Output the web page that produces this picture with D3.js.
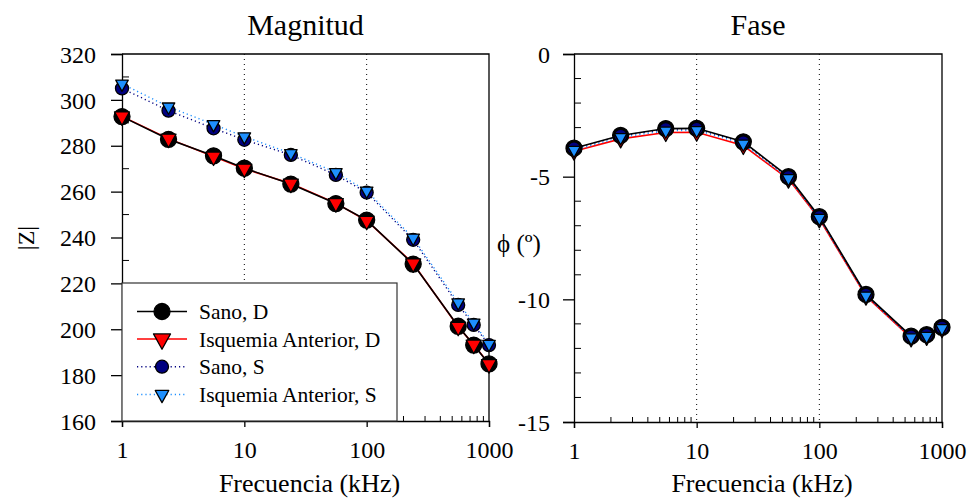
<!DOCTYPE html>
<html>
<head>
<meta charset="utf-8">
<script src="https://cdn.jsdelivr.net/npm/d3@7"></script>
<style>
  html, body { margin: 0; padding: 0; background: #fff; }
  svg { display: block; font-family: "Liberation Serif", "Times New Roman", serif; }
</style>
</head>
<body>
<svg id="chart" width="977" height="498"></svg>
<script>
// Frequencies (kHz)
const freqs = [1, 2.4, 5.6, 10, 24, 56, 100, 240, 560, 750, 1000];

// Impedance magnitude |Z|
const magSanoD = [292.7, 282.8, 275.6, 270.2, 263.3, 254.8, 247.6, 228.4, 201.3, 193.1, 184.9];
const magIsqD  = [292.8, 283.1, 275.3, 270.0, 263.5, 255.0, 247.3, 228.7, 201.1, 193.3, 184.8];
const magSanoS = [305.0, 295.3, 287.6, 282.6, 276.0, 267.3, 259.6, 239.0, 210.6, 201.9, 193.1];
const magIsqS  = [307.0, 297.0, 289.3, 284.0, 276.7, 268.4, 260.3, 239.8, 211.6, 202.8, 193.5];

// Phase (degrees)
const phSanoD = [-3.84, -3.32, -3.04, -3.03, -3.58, -5.00, -6.63, -9.80, -11.50, -11.44, -11.14];
const phIsqD  = [-3.96, -3.46, -3.20, -3.19, -3.73, -5.10, -6.72, -9.87, -11.57, -11.51, -11.20];
const phSanoS = [-3.85, -3.34, -3.06, -3.05, -3.60, -5.02, -6.65, -9.82, -11.52, -11.46, -11.15];
const phIsqS  = [-3.92, -3.40, -3.13, -3.11, -3.66, -5.07, -6.69, -9.86, -11.56, -11.50, -11.18];

const seriesNames = ["Sano, D", "Isquemia Anterior, D", "Sano, S", "Isquemia Anterior, S"];
const xTicks = [1, 10, 100, 1000];
const magTicks = [160, 180, 200, 220, 240, 260, 280, 300, 320];
const phTicks = [0, -5, -10, -15];

const styles = [
  { line: "#000000", dash: null,    width: 1.6, marker: "circle",   fill: "#000000", size: 8 },
  { line: "#ff0000", dash: null,    width: 1.6, marker: "triangle", fill: "#ff0000", size: 15 },
  { line: "#000080", dash: "1.2,3", width: 1.4, marker: "circle",   fill: "#000080", size: 6.5 },
  { line: "#1e90ff", dash: "1.2,3", width: 1.4, marker: "triangle", fill: "#1e90ff", size: 12.5 }
];

const svg = d3.select("#chart");

// Downward-pointing triangle centred on its centroid
function trianglePath(w) {
  const h = w * 0.9;
  return `M${-w / 2},${-h / 3}L${w / 2},${-h / 3}L0,${2 * h / 3}Z`;
}

function drawMarker(g, st, x, y) {
  if (st.marker === "circle") {
    g.append("circle").attr("cx", x).attr("cy", y).attr("r", st.size)
      .attr("fill", st.fill).attr("stroke", "#000").attr("stroke-width", 1.3);
  } else {
    g.append("path").attr("d", trianglePath(st.size)).attr("transform", `translate(${x},${y})`)
      .attr("fill", st.fill).attr("stroke", "#000").attr("stroke-width", 1.3)
      .attr("stroke-linejoin", "round");
  }
}

function panel(opts) {
  const { left, right, top, bottom, yDomain, yTicks, yMinorStep, yPad, data, title } = opts;
  const g = svg.append("g");
  const x = d3.scaleLog().domain([1, 1000]).range([left, right]);
  const y = d3.scaleLinear().domain(yDomain).range([bottom, top]);

  // vertical dotted grid at decades
  g.selectAll("line.grid").data([10, 100]).join("line")
    .attr("x1", d => x(d)).attr("x2", d => x(d)).attr("y1", top).attr("y2", bottom)
    .attr("stroke", "#000").attr("stroke-width", 1).attr("stroke-dasharray", "1,4");

  // minor x ticks (inward)
  const minorX = [];
  [1, 10, 100].forEach(dec => { for (let k = 2; k <= 9; k++) minorX.push(dec * k); });
  g.selectAll("line.mx").data(minorX).join("line")
    .attr("x1", d => x(d)).attr("x2", d => x(d)).attr("y1", bottom).attr("y2", bottom - 5)
    .attr("stroke", "#000").attr("stroke-width", 1);

  // minor y ticks (inward)
  const minorY = d3.range(yDomain[0] + yMinorStep, yDomain[1], yMinorStep).filter(v => !yTicks.includes(v));
  g.selectAll("line.my").data(minorY).join("line")
    .attr("x1", left).attr("x2", left + 7).attr("y1", d => y(d)).attr("y2", d => y(d))
    .attr("stroke", "#000").attr("stroke-width", 1);

  // frame (top + right)
  g.append("path").attr("d", `M${left},${top}H${right}V${bottom}`)
    .attr("fill", "none").attr("stroke", "#000").attr("stroke-width", 1.3);

  // axes
  const fmt = d => String(d).replace("\u2212", "-");
  const xAxis = d3.axisBottom(x).tickValues(xTicks).tickFormat(fmt).tickSizeOuter(0).tickSize(6).tickPadding(14);
  const yAxis = d3.axisLeft(y).tickValues(yTicks).tickFormat(fmt).tickSizeOuter(0).tickSize(11).tickPadding(yPad);
  const gx = g.append("g").attr("transform", `translate(0,${bottom})`).call(xAxis);
  const gy = g.append("g").attr("transform", `translate(${left},0)`).call(yAxis);
  [gx, gy].forEach(a => {
    a.attr("font-family", null);
    a.select(".domain").attr("stroke", "#000").attr("stroke-width", 1.3);
    a.selectAll(".tick line").attr("stroke", "#000").attr("stroke-width", 1.3);
    a.selectAll(".tick text").attr("fill", "#000")
      .style("font-family", "'Liberation Serif', serif").style("font-size", "24px");
  });
  gy.selectAll(".tick text").attr("dy", "0.34em");

  // series: lines first, then markers
  const line = d3.line().x((d, i) => x(freqs[i])).y(d => y(d));
  const order = opts.lineOrder || [0, 1, 2, 3];
  order.forEach(si => {
    const st = styles[si];
    g.append("path").datum(data[si]).attr("d", line).attr("fill", "none")
      .attr("stroke", st.line).attr("stroke-width", st.width)
      .attr("stroke-dasharray", st.dash);
  });
  data.forEach((vals, si) => {
    const st = styles[si];
    vals.forEach((v, i) => drawMarker(g, st, x(freqs[i]), y(v)));
  });

  // titles and labels
  g.append("text").attr("x", (left + right) / 2).attr("y", 35).attr("text-anchor", "middle")
    .style("font-size", "30px").text(title);
  g.append("text").attr("x", (left + right) / 2 + 4).attr("y", 492).attr("text-anchor", "middle")
    .style("font-size", "26px").text("Frecuencia (kHz)");
  return { g, x, y };
}

// Magnitude panel
const p1 = panel({
  left: 122, right: 489, top: 54, bottom: 421,
  yDomain: [160, 320], yTicks: magTicks, yMinorStep: 10, yPad: 15,
  data: [magSanoD, magIsqD, magSanoS, magIsqS],
  lineOrder: [1, 0, 2, 3],
  title: "Magnitud"
});
p1.g.append("text").attr("transform", "translate(34,238) rotate(-90)")
  .attr("text-anchor", "middle").style("font-size", "24px").text("|Z|");

// Legend
const lg = p1.g.append("g");
lg.append("rect").attr("x", 122).attr("y", 283).attr("width", 275).attr("height", 138)
  .attr("fill", "#fff").attr("stroke", "#333").attr("stroke-width", 1.2);
const legendRowY = [311.5, 339, 366.7, 394.5];
seriesNames.forEach((name, i) => {
  const st = styles[i];
  const ly = legendRowY[i];
  lg.append("line").attr("x1", 137).attr("x2", 187).attr("y1", ly).attr("y2", ly)
    .attr("stroke", st.line).attr("stroke-width", st.width).attr("stroke-dasharray", st.dash);
  drawMarker(lg, i === 1 ? { ...st, size: 17 } : i === 3 ? { ...st, size: 13.5 } : st, 162, ly);
  lg.append("text").attr("x", 199).attr("y", ly).attr("dy", "0.35em")
    .style("font-size", "21.5px").text(name);
});

// Phase panel
const p2 = panel({
  left: 574, right: 942, top: 54, bottom: 422,
  yDomain: [-15, 0], yTicks: phTicks, yMinorStep: 1, yPad: 13,
  data: [phSanoD, phIsqD, phSanoS, phIsqS],
  lineOrder: [1, 3, 2, 0],
  title: "Fase"
});
p2.g.append("text").attr("x", 519).attr("y", 243).attr("dy", "0.35em").attr("text-anchor", "middle")
  .style("font-size", "25px").text("ϕ (º)");
</script>
</body>
</html>
